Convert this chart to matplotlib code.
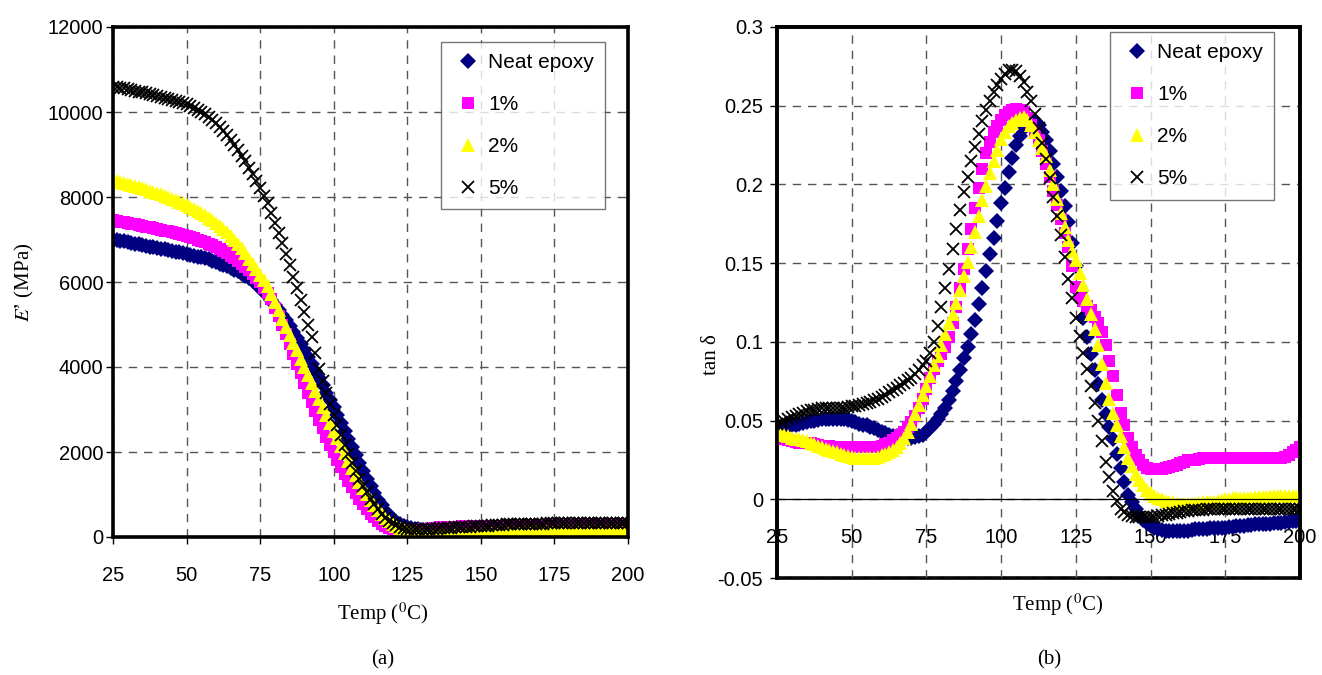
import numpy as np
import matplotlib
matplotlib.use("Agg")
import matplotlib.pyplot as plt
from matplotlib.ticker import FuncFormatter

plt.rcParams['font.family'] = 'Liberation Sans'
plt.rcParams['mathtext.fontset'] = 'stix'

# --- data (temperature step 1.25 C, 25..200) ---
temp = [25 + 1.25 * i for i in range(141)]

series_names = ["Neat epoxy", "1%", "2%", "5%"]

# storage modulus E' (MPa), one row = 10 C
e_neat = [7000, 6985, 6970, 6955, 6930, 6915, 6900, 6885,
          6870, 6850, 6830, 6815, 6800, 6785, 6770, 6750,
          6730, 6715, 6700, 6680, 6660, 6640, 6620, 6600,
          6580, 6555, 6530, 6500, 6470, 6435, 6400, 6365,
          6330, 6290, 6250, 6200, 6150, 6090, 6020, 5945,
          5860, 5770, 5680, 5580, 5470, 5350, 5230, 5100,
          4970, 4830, 4690, 4545, 4400, 4240, 4080, 3915,
          3750, 3575, 3400, 3225, 3050, 2865, 2680, 2490,
          2300, 2110, 1920, 1735, 1550, 1370, 1200, 1035,
          880, 745, 620, 510, 420, 355, 300, 260,
          230, 205, 190, 180, 170, 165, 160, 160,
          160, 162, 165, 168, 170, 172, 175, 178,
          180, 182, 185, 188, 190, 192, 195, 198,
          200, 202, 205, 208, 210, 212, 215, 218,
          220, 221, 222, 224, 225, 226, 228, 229,
          230, 231, 232, 234, 235, 236, 238, 239,
          240, 241, 242, 243, 244, 245, 246, 247,
          248, 248, 249, 249, 250]
e_1 = [7450, 7435, 7420, 7405, 7390, 7375, 7360, 7340,
       7320, 7305, 7290, 7270, 7250, 7230, 7210, 7190,
       7170, 7150, 7130, 7105, 7080, 7055, 7030, 7000,
       6970, 6935, 6900, 6860, 6820, 6775, 6730, 6675,
       6620, 6560, 6500, 6430, 6360, 6275, 6190, 6095,
       5990, 5870, 5750, 5590, 5400, 5200, 5000, 4780,
       4550, 4315, 4080, 3850, 3620, 3400, 3180, 2970,
       2760, 2560, 2360, 2175, 1990, 1815, 1640, 1480,
       1320, 1175, 1030, 900, 770, 660, 550, 460,
       380, 315, 260, 220, 190, 170, 155, 150,
       150, 155, 160, 170, 180, 190, 200, 210,
       220, 225, 230, 235, 240, 242, 245, 248,
       250, 252, 255, 258, 260, 262, 264, 266,
       266, 268, 270, 272, 273, 275, 276, 278,
       280, 281, 282, 283, 284, 285, 286, 287,
       288, 289, 290, 291, 291, 292, 292, 293,
       293, 294, 294, 295, 295, 296, 296, 297,
       297, 298, 298, 299, 300]
e_2 = [8400, 8380, 8360, 8335, 8310, 8285, 8260, 8235,
       8210, 8180, 8150, 8120, 8090, 8060, 8030, 7995,
       7960, 7925, 7890, 7850, 7810, 7765, 7720, 7670,
       7620, 7565, 7510, 7450, 7390, 7320, 7250, 7170,
       7090, 7000, 6900, 6790, 6680, 6550, 6420, 6295,
       6170, 6040, 5900, 5710, 5520, 5330, 5140, 4950,
       4760, 4575, 4390, 4200, 4010, 3820, 3630, 3440,
       3250, 3060, 2870, 2685, 2500, 2320, 2140, 1965,
       1790, 1625, 1460, 1305, 1150, 1010, 870, 745,
       630, 535, 440, 365, 300, 250, 210, 178,
       150, 128, 110, 100, 90, 80, 70, 65,
       60, 55, 50, 50, 50, 52, 55, 58,
       60, 65, 70, 75, 80, 85, 90, 95,
       100, 105, 110, 115, 120, 122, 125, 128,
       130, 131, 132, 133, 134, 135, 136, 137,
       138, 139, 140, 140, 141, 141, 142, 142,
       143, 143, 144, 144, 145, 145, 146, 146,
       147, 148, 148, 149, 150]
e_5 = [10600, 10585, 10570, 10555, 10540, 10520, 10500, 10480,
       10460, 10440, 10420, 10400, 10380, 10360, 10340, 10315,
       10290, 10265, 10240, 10210, 10180, 10140, 10100, 10055,
       10010, 9950, 9890, 9815, 9740, 9650, 9560, 9455,
       9350, 9230, 9110, 8975, 8840, 8690, 8540, 8375,
       8210, 8030, 7850, 7630, 7400, 7160, 6920, 6660,
       6400, 6125, 5850, 5575, 5300, 5000, 4700, 4325,
       3950, 3675, 3400, 3140, 2880, 2640, 2400, 2175,
       1950, 1750, 1550, 1375, 1200, 1050, 900, 775,
       650, 550, 450, 385, 320, 280, 240, 220,
       200, 195, 192, 190, 190, 190, 192, 195,
       200, 205, 210, 215, 220, 225, 230, 235,
       240, 245, 250, 255, 260, 265, 270, 275,
       280, 285, 290, 295, 300, 302, 305, 308,
       310, 312, 313, 315, 316, 317, 318, 319,
       320, 320, 321, 321, 322, 323, 324, 325,
       326, 326, 327, 327, 328, 328, 329, 329,
       330, 330, 330, 330, 330]

# tan delta
t_neat = [.045, .0455, .046, .0465, .047, .0475, .048, .0485,
          .049, .0495, .050, .0505, .051, .051, .051, .051,
          .051, .051, .051, .0505, .050, .049, .048, .0475,
          .047, .046, .045, .044, .043, .042, .041, .0405,
          .040, .0395, .039, .039, .039, .0395, .040, .041,
          .043, .045, .048, .051, .054, .058, .063, .069,
          .075, .082, .090, .097, .105, .114, .124, .134,
          .145, .156, .166, .177, .188, .198, .208, .217,
          .225, .231, .236, .239, .241, .240, .238, .233,
          .228, .221, .213, .205, .196, .186, .176, .163,
          .148, .131, .115, .103, .092, .082, .073, .063,
          .054, .046, .038, .029, .020, .011, .003, -.002,
          -.006, -.010, -.013, -.015, -.017, -.018, -.019, -.0195,
          -.020, -.020, -.020, -.020, -.020, -.020, -.020, -.0195,
          -.019, -.019, -.019, -.019, -.0185, -.0185, -.018, -.018,
          -.018, -.0175, -.0175, -.017, -.017, -.017, -.0165, -.0165,
          -.016, -.016, -.016, -.0155, -.0155, -.015, -.015, -.015,
          -.0145, -.0145, -.014, -.014, -.014]
t_1 = [.039, .0385, .038, .0375, .037, .0365, .036, .036,
       .036, .0355, .035, .0345, .034, .034, .034, .0335,
       .033, .033, .033, .033, .033, .033, .033, .033,
       .033, .033, .033, .0335, .034, .035, .036, .0375,
       .039, .041, .043, .046, .049, .053, .058, .064,
       .070, .077, .083, .088, .092, .097, .103, .112,
       .122, .134, .146, .159, .172, .185, .198, .210,
       .220, .227, .233, .237, .241, .244, .246, .247,
       .248, .247, .246, .242, .238, .233, .228, .221,
       .213, .205, .196, .187, .178, .169, .160, .148,
       .135, .130, .126, .123, .120, .116, .112, .106,
       .098, .088, .078, .066, .055, .047, .039, .033,
       .028, .025, .022, .020, .019, .019, .019, .0195,
       .020, .0205, .021, .022, .023, .024, .025, .025,
       .025, .0255, .026, .026, .026, .026, .026, .026,
       .026, .026, .026, .026, .026, .026, .026, .026,
       .026, .026, .026, .026, .026, .026, .026, .026,
       .027, .028, .030, .031, .033]
t_2 = [.042, .0415, .041, .040, .039, .0385, .038, .0375,
       .037, .036, .035, .034, .033, .032, .031, .0305,
       .030, .029, .028, .0275, .027, .0265, .026, .026,
       .026, .026, .026, .027, .028, .029, .030, .0315,
       .033, .036, .039, .043, .048, .054, .060, .066,
       .072, .078, .085, .091, .098, .105, .112, .118,
       .125, .133, .142, .151, .160, .170, .180, .190,
       .199, .207, .215, .222, .229, .233, .237, .239,
       .241, .242, .243, .241, .238, .233, .228, .223,
       .218, .209, .200, .191, .182, .173, .165, .158,
       .152, .144, .136, .127, .118, .108, .098, .086,
       .074, .064, .055, .047, .040, .033, .026, .021,
       .016, .012, .009, .006, .004, .002, .001, .000,
       -.001, -.002, -.002, -.003, -.003, -.003, -.003, -.003,
       -.003, -.0025, -.002, -.002, -.002, -.0015, -.001, -.0005,
       .000, .000, .0005, .0005, .001, .001, .001, .001,
       .0015, .0015, .0015, .0015, .002, .002, .002, .002,
       .002, .002, .002, .002, .002]
t_5 = [.048, .049, .050, .051, .052, .053, .054, .055,
       .056, .0565, .057, .0575, .058, .058, .058, .058,
       .058, .058, .058, .0585, .059, .0595, .060, .0605,
       .061, .062, .063, .064, .065, .0665, .068, .0695,
       .071, .0725, .074, .0755, .077, .0795, .082, .085,
       .088, .093, .100, .110, .122, .134, .146, .159,
       .172, .184, .195, .205, .215, .224, .232, .240,
       .247, .253, .259, .263, .267, .270, .273, .273,
       .272, .269, .265, .259, .253, .245, .236, .226,
       .216, .204, .192, .180, .168, .154, .140, .128,
       .115, .104, .093, .083, .072, .061, .050, .037,
       .024, .014, .005, -.001, -.006, -.008, -.010, -.0105,
       -.011, -.011, -.011, -.011, -.011, -.011, -.0105, -.010,
       -.010, -.0095, -.009, -.0085, -.008, -.0075, -.0075, -.007,
       -.007, -.0065, -.0065, -.006, -.006, -.006, -.006, -.006,
       -.006, -.006, -.006, -.006, -.006, -.006, -.006, -.006,
       -.006, -.006, -.006, -.006, -.006, -.006, -.006, -.006,
       -.006, -.006, -.006, -.006, -.006]

x_ticks = [25, 50, 75, 100, 125, 150, 175, 200]

styles = [
    dict(marker='D', color='#000080', markersize=8.5, markeredgewidth=0),
    dict(marker='s', color='#FF00FF', markersize=8, markeredgewidth=0),
    dict(marker='^', color='#FFFF00', markersize=10.5, markeredgewidth=0),
    dict(marker='x', color='black', markersize=8.5, markeredgewidth=1.3),
]

serif = 'Liberation Serif'
tick_fs = 14.5


def style_axes(ax):
    ax.set_xlim(25, 200)
    ax.set_xticks(x_ticks)
    ax.grid(True, linestyle=(0, (6, 5)), color='#555555', linewidth=1.0)
    ax.set_axisbelow(True)
    for sp in ax.spines.values():
        sp.set_linewidth(2.6)
    ax.tick_params(labelsize=tick_fs, length=5, width=1, direction='out')
    ax.yaxis.set_major_formatter(FuncFormatter(lambda v, p: f"{v:g}"))


def add_legend(ax, handles, x0, y0):
    leg = ax.legend(handles, series_names, loc='upper left',
                    bbox_to_anchor=(x0, y0), numpoints=1, fontsize=15,
                    frameon=True, fancybox=False, borderpad=0.55,
                    labelspacing=1.1, handletextpad=0.2, handlelength=1.5,
                    borderaxespad=0)
    leg.get_frame().set_edgecolor('#555555')
    leg.get_frame().set_linewidth(1.0)
    return leg


fig = plt.figure(figsize=(13.22, 6.75), dpi=100)

# ---------------- (a) storage modulus ----------------
ax1 = fig.add_axes([113 / 1322, 1 - 537 / 675, 515 / 1322, 510 / 675])
h1 = []
for ys, st in zip([e_neat, e_1, e_2, e_5], styles):
    ln, = ax1.plot(temp, ys, linestyle='none', **st)
    h1.append(ln)
style_axes(ax1)
ax1.set_ylim(0, 12000)
ax1.set_yticks(np.arange(0, 12001, 2000))
ax1.tick_params(axis='y', pad=2)
ax1.tick_params(axis='x', pad=16)
ax1.set_xlabel("Temp ($^0$C)", fontsize=15, family=serif)
ax1.xaxis.set_label_coords(0.524, -0.125)
ax1.set_ylabel("$\\mathit{E}$\u2019 (MPa)", fontsize=15, family=serif)
ax1.yaxis.set_label_coords(-0.15, 0.5)
add_legend(ax1, h1, 0.637, 0.971)
ax1.text(0.524, -0.222, "(a)", transform=ax1.transAxes, ha='center',
         va='top', fontsize=15, family=serif)

# ---------------- (b) tan delta ----------------
ax2 = fig.add_axes([777 / 1322, 1 - 578 / 675, 523 / 1322, 551 / 675])
h2 = []
for ys, st in zip([t_neat, t_1, t_2, t_5], styles):
    ln, = ax2.plot(temp, ys, linestyle='none', **st)
    h2.append(ln)
style_axes(ax2)
ax2.set_ylim(-0.05, 0.3)
ax2.set_yticks(np.arange(-0.05, 0.301, 0.05))
ax2.tick_params(axis='y', pad=5)
# x axis crosses at zero, thick frame kept around the plot area
ax2.spines['bottom'].set_position(('data', 0))
ax2.spines['bottom'].set_linewidth(0.9)
ax2.patch.set_edgecolor('black')
ax2.patch.set_linewidth(2.6)
ax2.tick_params(axis='x', length=0, pad=21)
ax2.set_xlabel("Temp ($^0$C)", fontsize=15, family=serif)
ax2.xaxis.set_label_coords(0.537, -0.025)
ax2.set_ylabel("tan \u03b4", fontsize=15, family=serif)
ax2.yaxis.set_label_coords(-0.108, 0.405)
add_legend(ax2, h2, 0.637, 0.991)
ax2.text(0.52, -0.131, "(b)", transform=ax2.transAxes, ha='center',
         va='top', fontsize=15, family=serif)

fig.savefig("out.png", dpi=100)
